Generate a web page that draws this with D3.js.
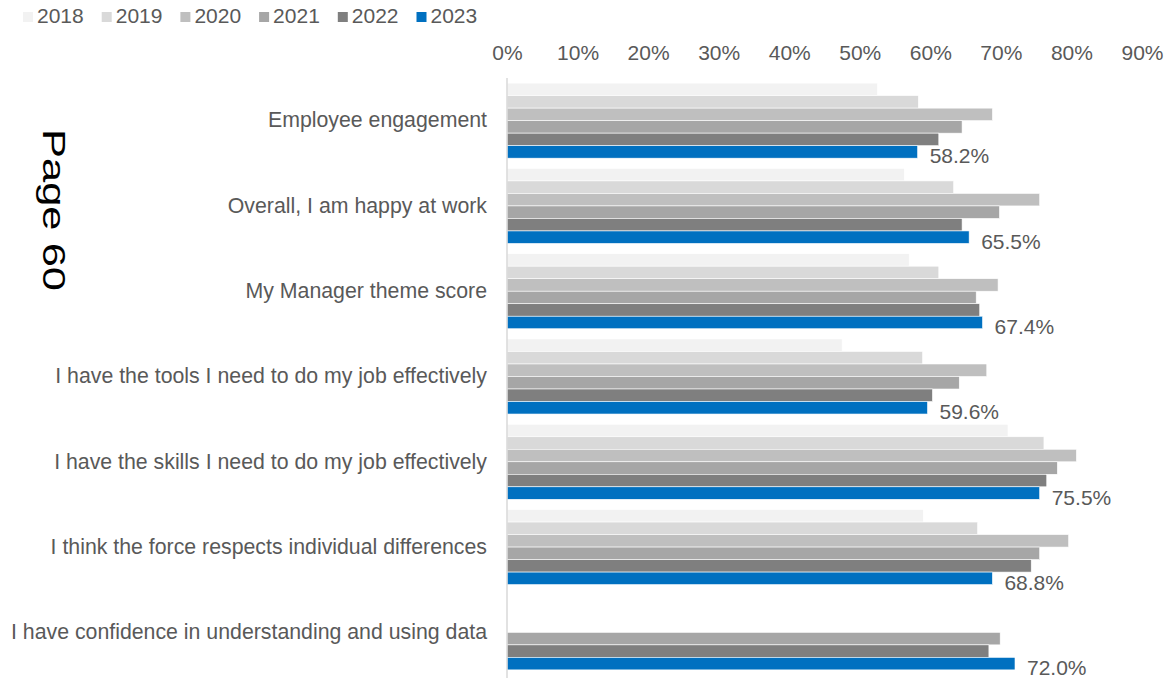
<!DOCTYPE html>
<html>
<head>
<meta charset="utf-8">
<script src="https://cdn.jsdelivr.net/npm/d3@7"></script>
<style>
  html, body { margin: 0; padding: 0; background: #fff; }
  svg { display: block; font-family: "Liberation Sans", Arial, sans-serif; }
</style>
</head>
<body>
<svg id="chart" width="1169" height="678"></svg>
<script>
// Survey questions (top to bottom)
const categories = [
  "Employee engagement",
  "Overall, I am happy at work",
  "My Manager theme score",
  "I have the tools I need to do my job effectively",
  "I have the skills I need to do my job effectively",
  "I think the force respects individual differences",
  "I have confidence in understanding and using data"
];

const years = ["2018", "2019", "2020", "2021", "2022", "2023"];

// Percentage agreeing, one array per survey year (null = question not asked)
const values2018 = [52.5, 56.3, 57.0, 47.5, 71.0, 59.0, null];
const values2019 = [58.3, 63.3, 61.2, 58.9, 76.1, 66.7, null];
const values2020 = [68.8, 75.5, 69.6, 68.0, 80.7, 79.6, null];
const values2021 = [64.5, 69.8, 66.5, 64.1, 78.0, 75.5, 69.9];
const values2022 = [61.2, 64.5, 67.0, 60.3, 76.5, 74.3, 68.3];
const values2023 = [58.2, 65.5, 67.4, 59.6, 75.5, 68.8, 72.0];

const seriesValues = [values2018, values2019, values2020, values2021, values2022, values2023];
const colors = ["#f2f2f2", "#d9d9d9", "#bfbfbf", "#a6a6a6", "#7f7f7f", "#0070c0"];

const tickValues = [0, 10, 20, 30, 40, 50, 60, 70, 80, 90];

const svg = d3.select("#chart");
const textColor = "#595959";
const fontSize = 21;

// Scales
const x = d3.scaleLinear().domain([0, 90]).range([507, 1142]);
const y = d3.scaleBand().domain(categories).range([78, 675]).paddingInner(0.12).paddingOuter(0.06);
const yInner = d3.scaleBand().domain(years).range([0, y.bandwidth()]);

// Top axis labels
const xAxis = d3.axisTop(x).tickValues(tickValues).tickFormat(d => d + "%").tickSize(0).tickPadding(0);
const gx = svg.append("g").attr("transform", "translate(0,60)").call(xAxis);
gx.select(".domain").remove();
gx.selectAll("text")
  .attr("fill", textColor)
  .style("font-size", fontSize + "px")
  .style("font-family", "'Liberation Sans', Arial, sans-serif");

// Category labels
const yAxis = d3.axisLeft(y).tickSize(0).tickPadding(20);
const gy = svg.append("g").attr("transform", `translate(${x(0)},0)`).call(yAxis);
gy.select(".domain").remove();
gy.selectAll("text")
  .attr("fill", textColor)
  .style("font-size", "21.3px")
  .style("font-family", "'Liberation Sans', Arial, sans-serif");

// Bars
const rows = [];
categories.forEach((c, i) => {
  years.forEach((yr, j) => {
    const v = seriesValues[j][i];
    if (v !== null) rows.push({ cat: c, year: yr, value: v, color: colors[j] });
  });
});

svg.append("g")
  .selectAll("rect")
  .data(rows)
  .join("rect")
  .attr("x", x(0))
  .attr("y", d => y(d.cat) + yInner(d.year))
  .attr("width", d => x(d.value) - x(0))
  .attr("height", yInner.bandwidth())
  .attr("fill", d => d.color)
  .attr("stroke", "#ffffff")
  .attr("stroke-width", 0.6);

// Vertical category axis line
svg.append("line")
  .attr("x1", x(0)).attr("x2", x(0))
  .attr("y1", 78).attr("y2", 678)
  .attr("stroke", "#d9d9d9")
  .attr("stroke-width", 1.5);

// Value labels for the latest year
svg.append("g")
  .selectAll("text")
  .data(categories.map((c, i) => ({ cat: c, value: values2023[i] })))
  .join("text")
  .attr("x", d => x(d.value) + 12)
  .attr("y", d => y(d.cat) + yInner("2023") + yInner.bandwidth() / 2 + 6)
  .attr("dominant-baseline", "middle")
  .attr("fill", textColor)
  .style("font-size", fontSize + "px")
  .text(d => d.value.toFixed(1) + "%");

// Legend
const legend = svg.append("g").attr("transform", "translate(23,17)");
const item = legend.selectAll("g")
  .data(years)
  .join("g")
  .attr("transform", (d, i) => `translate(${i * 78.7},0)`);
item.append("rect")
  .attr("x", 0).attr("y", -5)
  .attr("width", 10).attr("height", 10)
  .attr("fill", (d, i) => colors[i]);
item.append("text")
  .attr("x", 14).attr("y", 0)
  .attr("dominant-baseline", "middle")
  .attr("fill", textColor)
  .style("font-size", fontSize + "px")
  .text(d => d);

// Page number stamp
svg.append("text")
  .attr("transform", "translate(43,129) rotate(90)")
  .attr("x", 0).attr("y", 0)
  .attr("fill", "#000")
  .attr("textLength", 162)
  .attr("lengthAdjust", "spacingAndGlyphs")
  .style("font-size", "31px")
  .text("Page 60");
</script>
</body>
</html>
